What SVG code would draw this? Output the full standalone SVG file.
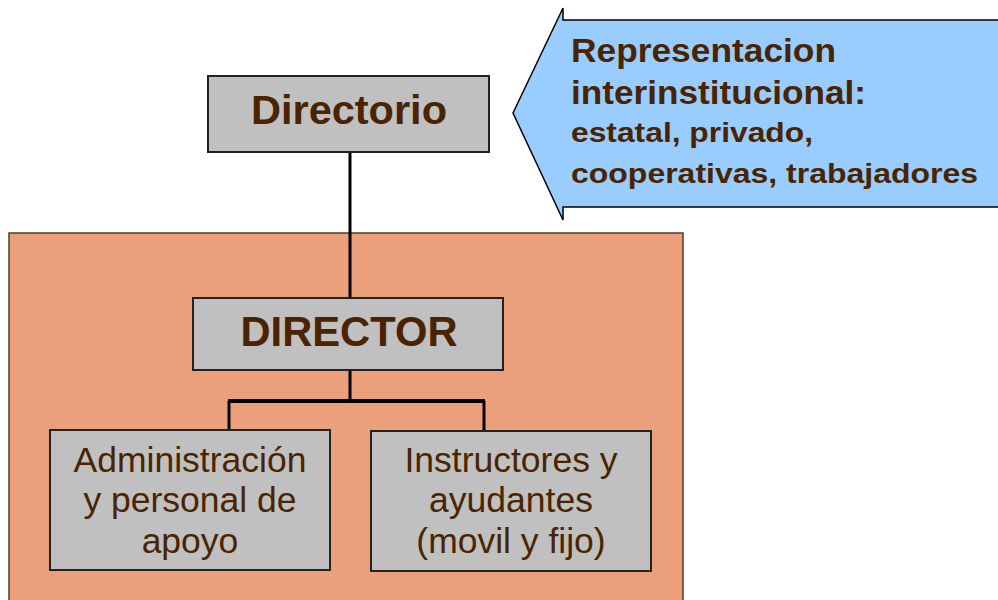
<svg xmlns="http://www.w3.org/2000/svg" width="998" height="600" viewBox="0 0 998 600">
<style>
.box{fill:#C0C0C0;stroke:#222;stroke-width:2}
.t{font-family:"Liberation Sans",Arial,sans-serif;fill:#4A2400;text-anchor:middle}
.b{font-weight:bold}
.a{font-family:"Liberation Sans",Arial,sans-serif;fill:#4A2400;font-weight:bold}
.c{stroke:#000;stroke-width:3;fill:none}
</style>
<rect width="998" height="600" fill="#fff"/>
<rect id="area" x="9" y="233" width="674" height="380" fill="#EB9F7B" stroke="#5A3A2A" stroke-width="1.5"/>
<g id="arrow">
<polygon points="513,113 563,8 563,20 1005,20 1005,207 563,207 563,220" fill="#99CCFF" stroke="#000" stroke-width="1.5"/>
<text class="a" x="571" y="62" font-size="33" textLength="265" lengthAdjust="spacingAndGlyphs">Representacion</text>
<text class="a" x="571" y="104" font-size="33" textLength="295" lengthAdjust="spacingAndGlyphs">interinstitucional:</text>
<text class="a" x="571" y="142" font-size="28" textLength="242" lengthAdjust="spacingAndGlyphs">estatal, privado,</text>
<text class="a" x="571" y="183" font-size="28" textLength="407" lengthAdjust="spacingAndGlyphs">cooperativas, trabajadores</text>
</g>
<g id="connectors">
<line class="c" x1="350" y1="152" x2="350" y2="298"/>
<line class="c" x1="350" y1="370" x2="350" y2="401"/>
<line x1="228" y1="401" x2="485" y2="401" stroke="#000" stroke-width="4"/>
<line class="c" x1="229" y1="401" x2="229" y2="430"/>
<line class="c" x1="484" y1="401" x2="484" y2="431"/>
</g>
<g id="directorio">
<rect class="box" x="208" y="76" width="281" height="76"/>
<text class="t b" x="349" y="124" font-size="41.5">Directorio</text>
</g>
<g id="director">
<rect class="box" x="193" y="298" width="310" height="72"/>
<text class="t b" x="349" y="346" font-size="42" textLength="217" lengthAdjust="spacingAndGlyphs">DIRECTOR</text>
</g>
<g id="admin">
<rect class="box" x="50" y="430" width="280" height="140"/>
<text class="t" x="190" y="472" font-size="35.5">Administración</text>
<text class="t" x="190" y="512" font-size="35.5">y personal de</text>
<text class="t" x="190" y="553" font-size="35.5">apoyo</text>
</g>
<g id="instructores">
<rect class="box" x="371" y="431" width="280" height="140"/>
<text class="t" x="511" y="472" font-size="35.5">Instructores y</text>
<text class="t" x="511" y="512" font-size="35.5">ayudantes</text>
<text class="t" x="511" y="553" font-size="35.5">(movil y fijo)</text>
</g>
</svg>
